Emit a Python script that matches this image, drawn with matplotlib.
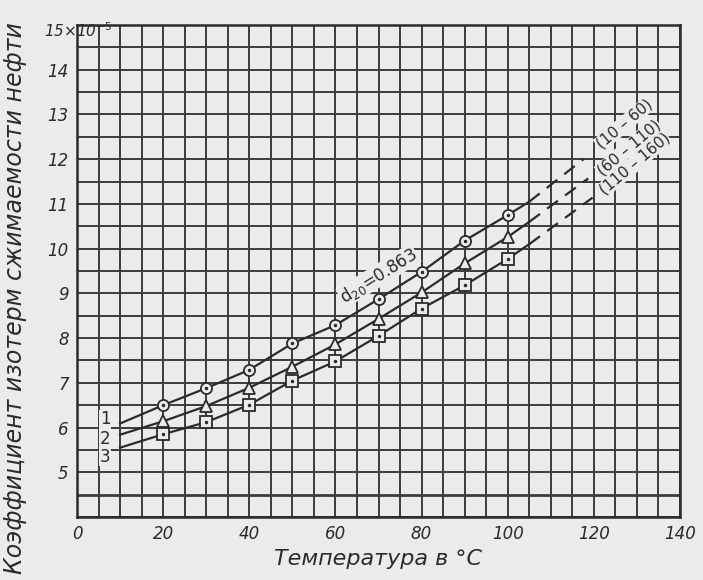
import matplotlib
matplotlib.use('Agg')
import matplotlib.pyplot as plt
import numpy as np

# ---- data ----
temps = [20, 30, 40, 50, 60, 70, 80, 90, 100]
k1 = [6.50, 6.88, 7.29, 7.88, 8.29, 8.87, 9.48, 10.18, 10.75]
k2 = [6.14, 6.48, 6.89, 7.36, 7.86, 8.43, 9.02, 9.67, 10.26]
k3 = [5.85, 6.12, 6.51, 7.05, 7.48, 8.05, 8.66, 9.18, 9.77]

line_start_t = 10
line_start = [6.09, 5.84, 5.55]
solid_end_t = 105
solid_end = [11.05, 10.60, 10.10]
dash_end_t = [117.6, 118.7, 119.7]
dash_end = [12.00, 11.57, 11.14]

curve_labels = ['1', '2', '3']
curve_label_y = [6.18, 5.75, 5.35]
range_labels = ['(10 – 60)', '(60 – 110)', '(110 – 160)']
range_label_xy = [(127.0, 12.78), (128.1, 12.25), (129.4, 11.89)]
density_label = 'd$_{20}$=0.863'

xticks = [0, 20, 40, 60, 80, 100, 120, 140]
yticks = [5, 6, 7, 8, 9, 10, 11, 12, 13, 14]
top_label = '15×10$^{-5}$'
xlabel = 'Температура в °C'
ylabel = 'Коэффициент изотерм сжимаемости нефти'

# ---- style ----
bg = '#ebebeb'
ink = '#2b2b2b'
gridc = '#3c3c3c'
W, H = 703, 580

fig = plt.figure(figsize=(W / 100, H / 100), dpi=100, facecolor=bg)
L, R, T, B = 77, 680, 25, 517
ax = fig.add_axes([L / W, 1 - B / H, (R - L) / W, (B - T) / H])
ax.set_facecolor(bg)
ax.set_xlim(0, 140)
ax.set_ylim(4, 15)

for xv in np.arange(0, 141, 5):
    ax.axvline(xv, color=gridc, lw=1.4, zorder=1)
for yv in np.arange(4, 15.01, 0.5):
    ax.axhline(yv, color=gridc, lw=2.0 if abs(yv - 4.5) < 1e-6 else 1.4, zorder=1)

for s in ax.spines.values():
    s.set_color(ink)
    s.set_linewidth(1.8)

tfont = dict(fontsize=12, fontstyle='italic', color=ink)
ax.set_xticks(xticks)
ax.set_xticklabels([str(v) for v in xticks], **tfont)
ax.set_yticks(yticks)
ax.set_yticklabels([str(v) for v in yticks], **tfont)
ax.tick_params(length=0, pad=6)
fig.text(44 / W, 1 - 40 / H, top_label, fontsize=11, fontstyle='italic',
         color=ink, ha='left', va='bottom')

ax.set_xlabel(xlabel, fontsize=16, fontstyle='italic', color=ink, labelpad=4)
ax.set_ylabel(ylabel, fontsize=17, fontstyle='italic', color=ink)
ax.yaxis.set_label_coords(-0.083, 0.445)

series = [k1, k2, k3]
markers = ['o', '^', 's']
for i, (ks, m) in enumerate(zip(series, markers)):
    xs = [line_start_t] + temps + [solid_end_t]
    ys = [line_start[i]] + ks + [solid_end[i]]
    ax.plot(xs, ys, color=ink, lw=1.6, zorder=3)
    ax.plot([solid_end_t, dash_end_t[i]], [solid_end[i], dash_end[i]],
            color=ink, lw=1.6, ls=(0, (6, 4)), zorder=3)
    ax.plot(temps, ks, ls='none', marker=m, ms=8 if m != '^' else 8.5,
            mfc=bg, mec=ink, mew=1.3, zorder=4)
    if m != '^':
        ax.plot(temps, ks, ls='none', marker='.', ms=3, color=ink, zorder=5)
    ax.text(6.5, curve_label_y[i], curve_labels[i], fontsize=12, color=ink,
            ha='center', va='center', zorder=6,
            bbox=dict(facecolor=bg, edgecolor='none', pad=0.5))

for lab, (xx, yy) in zip(range_labels, range_label_xy):
    ax.text(xx, yy, lab, rotation=40, fontsize=11, color=ink, ha='center',
            va='center', rotation_mode='anchor', zorder=6,
            bbox=dict(facecolor=bg, edgecolor='none', pad=0.3))

ax.text(70, 9.4, density_label, rotation=32, fontsize=12, color=ink,
        ha='center', va='center', rotation_mode='anchor', zorder=6,
        bbox=dict(facecolor=bg, edgecolor='none', pad=0.3))

fig.savefig('out.png', dpi=100, facecolor=bg)
